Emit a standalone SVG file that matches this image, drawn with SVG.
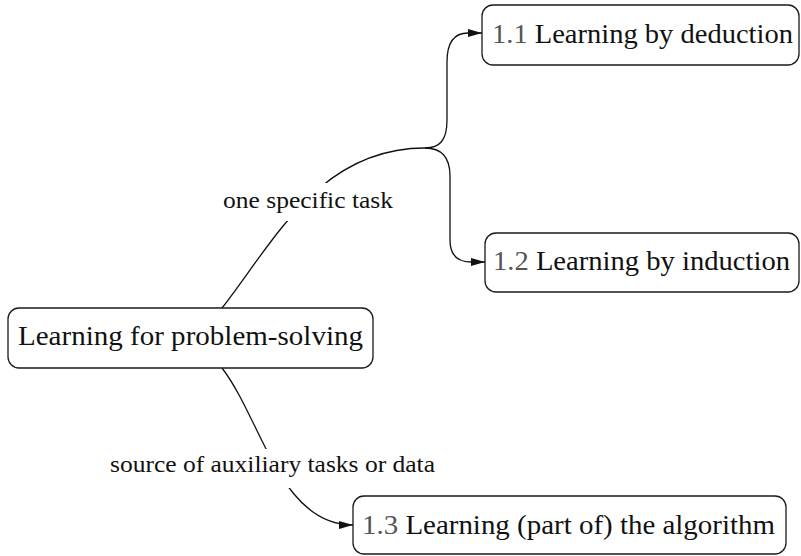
<svg xmlns="http://www.w3.org/2000/svg" width="801" height="556" viewBox="0 0 801 556">
  <style>
    .box { fill: #ffffff; stroke: #1a1a1a; stroke-width: 1.3; }
    .node-text { font-family: 'Liberation Serif', 'DejaVu Serif', serif; font-size: 28px; fill: #111111; }
    .num { fill: #555555; }
    .edge { fill: none; stroke: #111111; stroke-width: 1.3; }
    .label-bg { fill: #ffffff; stroke: none; }
    .label { font-family: 'Liberation Serif', 'DejaVu Serif', serif; font-size: 24px; fill: #111111; }
  </style>
  <defs>
    <marker id="arrow" viewBox="0 0 14 8" refX="14" refY="4" markerWidth="14" markerHeight="8" markerUnits="userSpaceOnUse" orient="auto">
      <path d="M0,0 L14,4 L0,8 Z" fill="#111111"/>
    </marker>
  </defs>

  <!-- connectors -->
  <g id="connectors">
    <path class="edge" d="M222,308 C275,240 320,148 425,148"/>
    <path class="edge" d="M425,148 C440,148 447,140 447,120 L447,62 C447,42 455,33 468,33 L482,33" marker-end="url(#arrow)"/>
    <path class="edge" d="M425,148 C441,148 450,156 450,176 L450,240 C450,256 458,262 471,262 L485,262" marker-end="url(#arrow)"/>
    <path class="edge" d="M222,368 C262,420 280,525 353,525" marker-end="url(#arrow)"/>

    <g id="label-task">
      <rect class="label-bg" x="216" y="183" width="184" height="38"/>
      <text class="label" x="223" y="208" textLength="170" lengthAdjust="spacingAndGlyphs">one specific task</text>
    </g>
    <g id="label-aux">
      <rect class="label-bg" x="104" y="449" width="338" height="39"/>
      <text class="label" x="110" y="472" textLength="325" lengthAdjust="spacingAndGlyphs">source of auxiliary tasks or data</text>
    </g>
  </g>

  <!-- nodes -->
  <g id="node-root">
    <rect class="box" x="8" y="308" width="365" height="60" rx="11"/>
    <text class="node-text" x="18" y="345" textLength="345" lengthAdjust="spacingAndGlyphs">Learning for problem-solving</text>
  </g>

  <g id="node-deduction">
    <rect class="box" x="482" y="5" width="317" height="60" rx="11"/>
    <text class="node-text" x="492" y="43" textLength="301" lengthAdjust="spacingAndGlyphs"><tspan class="num">1.1</tspan> Learning by deduction</text>
  </g>

  <g id="node-induction">
    <rect class="box" x="485" y="233" width="314" height="59" rx="11"/>
    <text class="node-text" x="493" y="270" textLength="297" lengthAdjust="spacingAndGlyphs"><tspan class="num">1.2</tspan> Learning by induction</text>
  </g>

  <g id="node-algorithm">
    <rect class="box" x="353" y="496" width="433" height="58" rx="11"/>
    <text class="node-text" x="362" y="534" textLength="413" lengthAdjust="spacingAndGlyphs"><tspan class="num">1.3</tspan> Learning (part of) the algorithm</text>
  </g>
</svg>
